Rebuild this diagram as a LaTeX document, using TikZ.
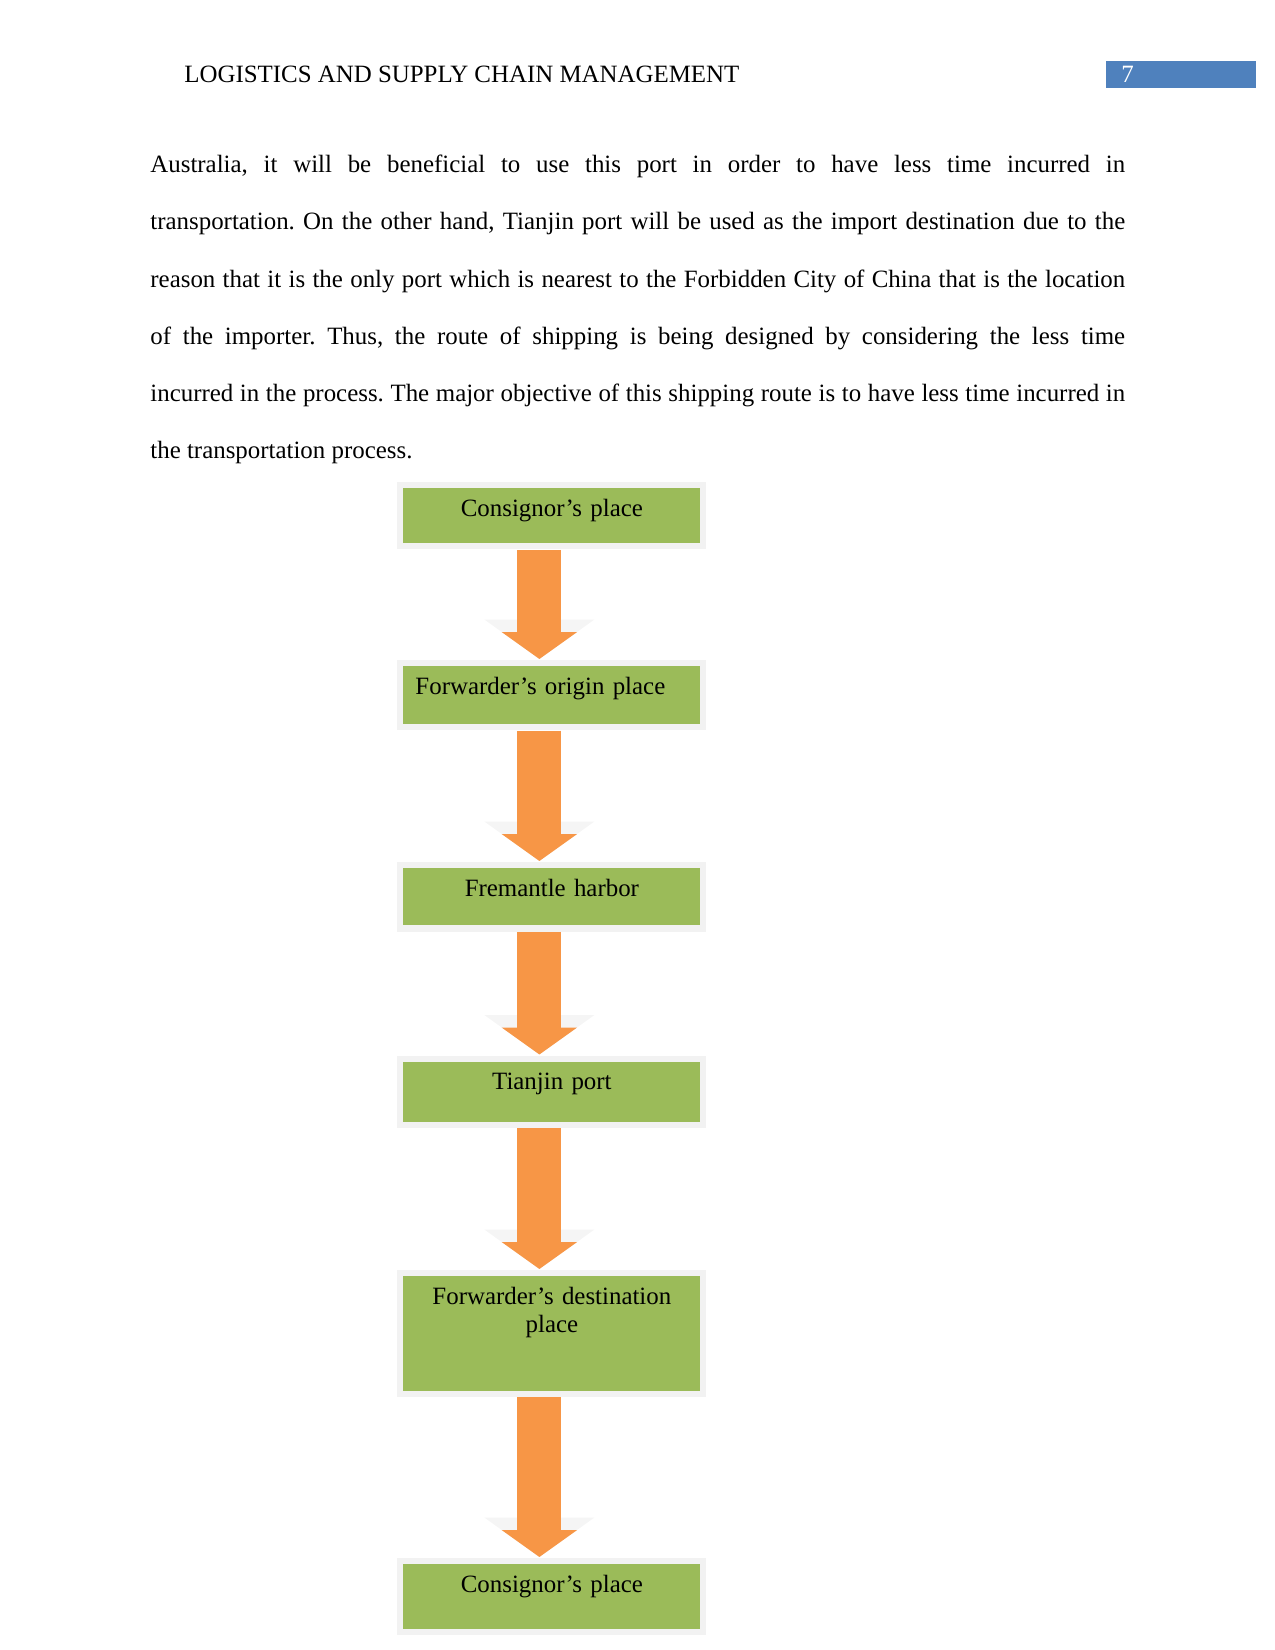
\documentclass[tikz,border=0pt]{standalone}
\usepackage{fontspec}
\setmainfont{Liberation Serif}
\usepackage{tikz}
\usetikzlibrary{arrows.meta,calc}
\definecolor{boxgreen}{HTML}{9BBB59}
\definecolor{arrorange}{HTML}{F79646}
\definecolor{hdrblue}{HTML}{4F81BD}
\frenchspacing

\begin{document}
\begin{tikzpicture}[x=0.016933cm, y=-0.016933cm,
  txt/.style={anchor=base west, inner sep=0pt, font=\fontsize{12pt}{14pt}\selectfont},
  stage/.style={fill=boxgreen, preaction={draw=black!5, line width=5.8pt}, anchor=north west,
    inner xsep=0pt, inner ysep=0pt, text width=143.1pt, text height=13.5pt, align=center,
    font=\fontsize{12pt}{13.5pt}\selectfont},
  bigarr/.style={arrorange, line width=21.2pt, -{Triangle[width=35.7pt, length=13pt]},
    preaction={draw=black!4, -{Triangle[width=52pt, length=19pt]}}}]
  \useasboundingbox (0,0) rectangle (1275,1650);
  % running head
  \node[txt] (hdr) at (184,82) {LOGISTICS AND SUPPLY CHAIN MANAGEMENT};
  \fill[hdrblue] (1106,61) rectangle (1256,88);
  \node[txt, text=white] (pgno) at (1121,82) {7};
  % body text
  \node[txt, text width=6.5in, align=justify, font=\fontsize{12pt}{27.6pt}\selectfont] (para) at (150,172.5)
    {Australia, it will be beneficial to use this port in order to have less time incurred in\linebreak
     transportation. On the other hand, Tianjin port will be used as the import destination due to the\linebreak
     reason that it is the only port which is nearest to the Forbidden City of China that is the location\linebreak
     of the importer. Thus, the route of shipping is being designed by considering the less time\linebreak
     incurred in the process. The major objective of this shipping route is to have less time incurred in\linebreak
     the transportation process.};
  % shipping route, top to bottom
  \node[stage, text depth=13pt]   (b1) at (403,488)    {Consignor’s place};
  \node[stage, text depth=14.4pt, align=left, text width=131.5pt, inner xsep=5.8pt] (b2) at (403,666) {Forwarder’s origin place};
  \node[stage, text depth=14pt]   (b3) at (403,868)    {Fremantle harbor};
  \node[stage, text depth=15.4pt] (b4) at (403,1061.5) {Tianjin port};
  \node[stage, text depth=41.7pt] (b5) at (403,1276)   {Forwarder’s destination\\place};
  \node[stage, text depth=17.6pt] (b6) at (403,1564)   {Consignor’s place};
  \draw[bigarr] ($(b1.south)+(-12.5,6)$) -- ($(b2.north)+(-12.5,-7)$);
  \draw[bigarr] ($(b2.south)+(-12.5,6)$) -- ($(b3.north)+(-12.5,-7)$);
  \draw[bigarr] ($(b3.south)+(-12.5,6)$) -- ($(b4.north)+(-12.5,-7)$);
  \draw[bigarr] ($(b4.south)+(-12.5,6)$) -- ($(b5.north)+(-12.5,-7)$);
  \draw[bigarr] ($(b5.south)+(-12.5,6)$) -- ($(b6.north)+(-12.5,-7)$);
\end{tikzpicture}
\end{document}
